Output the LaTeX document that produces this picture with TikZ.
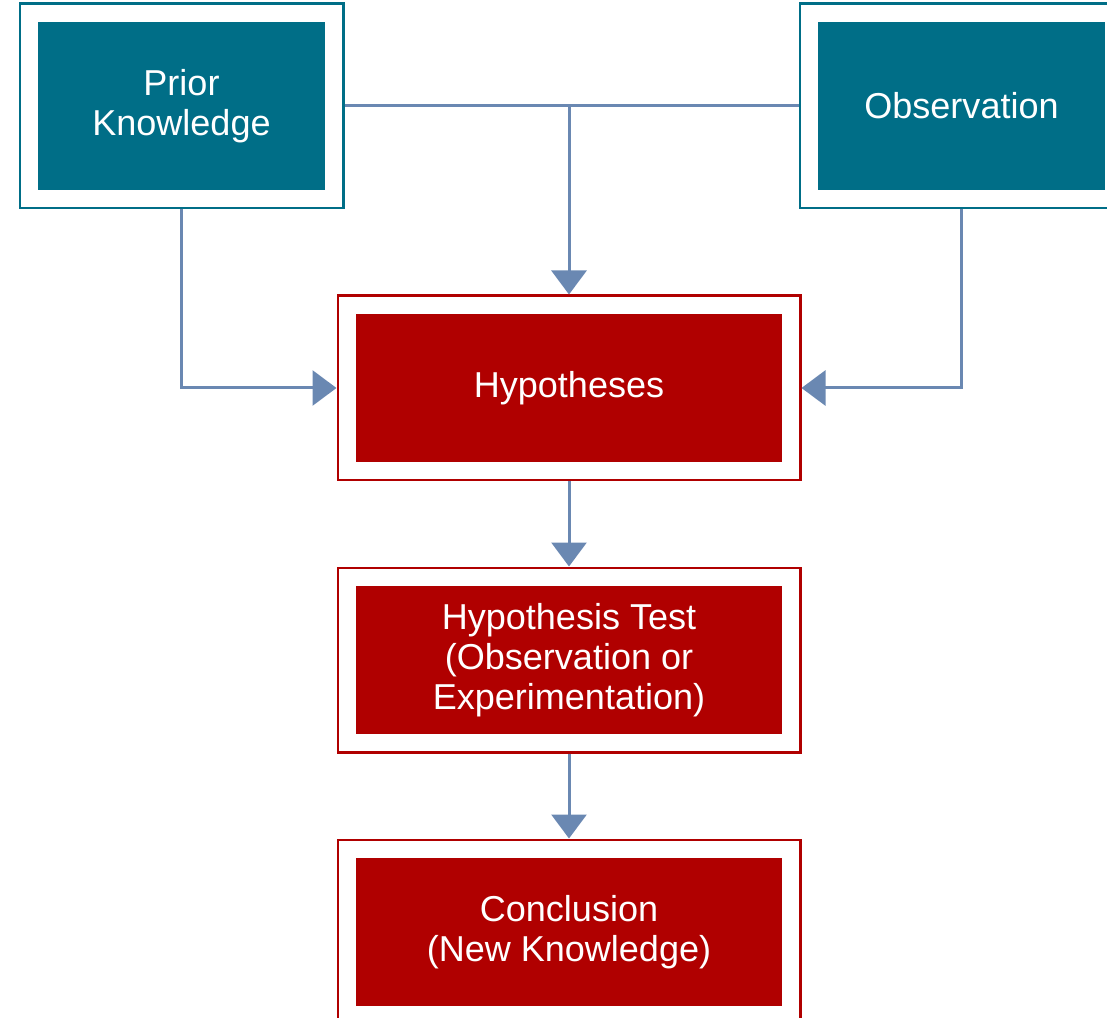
\documentclass[tikz,border=0pt]{standalone}
\usepackage{fontspec}
\setmainfont{Liberation Sans}
\usetikzlibrary{positioning,arrows.meta}
\definecolor{boxteal}{RGB}{0,110,135}
\definecolor{boxred}{RGB}{176,0,0}
\definecolor{linkblue}{RGB}{106,136,178}
\tikzset {
    style teal/.style={
        fill=boxteal,
        draw=boxteal,
        double=white,
        double distance=0.34cm,
        line width=0.05cm,
        rectangle, % Set the shape as a rectangle
        inner sep=0pt,
        outer sep=0.22cm,
        minimum width=6.08cm,
        minimum height=3.70cm,
        text=white,
        align=center,
    },
    style red/.style={
        fill=boxred,
        draw=boxred,
        double=white,
        double distance=0.34cm,
        line width=0.05cm,
        rectangle, % Set the shape as a rectangle
        inner sep=0pt,
        outer sep=0.22cm,
        minimum width=8.86cm,
        minimum height=3.30cm,
        text=white,
        align=center,
    },
    link/.style={
        draw=linkblue,
        line width=0.06cm,
    },
}

\begin{document}
\begin{tikzpicture}
[font=\fontsize{20.5}{22.7}\selectfont, >={Triangle[width=0.7cm,length=0.48cm]}]

\useasboundingbox (0,0) rectangle (22.14,-20.36);

\node[style teal] at (3.63,-2.12) (prior) {Prior\\Knowledge};
\node[style teal] at (19.23,-2.12) (obs) {Observation};
\node[style red] at (11.38,-7.76) (hyp) {Hypotheses};
\node[style red] at (11.38,-13.2) (test) {Hypothesis Test\\(Observation or\\Experimentation)};
\node[style red] at (11.38,-18.64) (concl) {Conclusion\\(New Knowledge)};

\coordinate (join) at (prior -| hyp);

\draw[link] (prior) -- (obs);
\draw[link, ->] (join) -- (hyp);
\draw[link, ->] (prior) |- (hyp);
\draw[link, ->] (obs) |- (hyp);
\draw[link, ->] (hyp) -- (test);
\draw[link, ->] (test) -- (concl);
\end{tikzpicture}
\end{document}
